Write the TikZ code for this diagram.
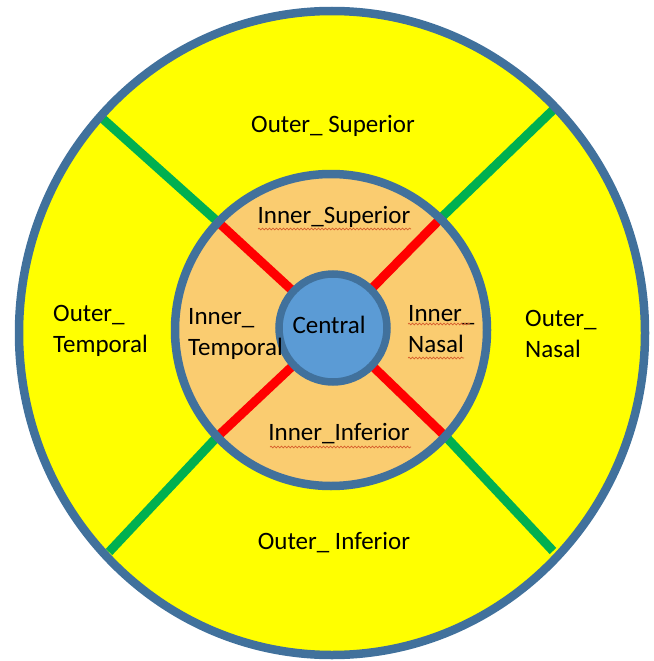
\documentclass[tikz,border=0pt]{standalone}
\usepackage{fontspec}
\setmainfont{Carlito}
\usetikzlibrary{decorations.pathmorphing}
\definecolor{ringblue}{RGB}{65,113,156}
\definecolor{outeryellow}{RGB}{255,255,0}
\definecolor{innerorange}{RGB}{250,204,112}
\definecolor{centralblue}{RGB}{91,155,213}
\definecolor{sepgreen}{RGB}{0,176,80}
\definecolor{sepred}{RGB}{255,0,0}
\definecolor{wavy}{RGB}{215,95,45}
\begin{document}
\begin{tikzpicture}[x=1pt,y=-1pt,
  lbl/.style={font=\fontsize{25}{31}\selectfont, inner sep=0pt, text=black},
  lblL/.style={lbl, align=left, anchor=west},
  border/.style={draw=ringblue, line width=8.5pt},
  gline/.style={draw=sepgreen, line width=9pt},
  rline/.style={draw=sepred, line width=9pt},
  spell/.style={draw=wavy, line width=0.7pt, decorate, decoration={snake, amplitude=0.9pt, segment length=3.5pt}}]
\useasboundingbox (0,0) rectangle (653,661);
% centres
\coordinate (oc) at (332,333);
\coordinate (ic) at (331,330);
\coordinate (cc) at (333,328);
% green outer ends and junctions
\coordinate (g1) at (103,119);
\coordinate (g2) at (553,110);
\coordinate (g3) at (109,552);
\coordinate (g4) at (553,551);
\coordinate (j1) at (218,222);
\coordinate (j2) at (443,216);
\coordinate (j3) at (217,437);
\coordinate (j4) at (447,438);
% outer ring
\fill[outeryellow] (oc) ellipse [x radius=313pt, y radius=322pt];
\draw[gline] (g1) -- (j1);
\draw[gline] (g2) -- (j2);
\draw[gline] (g3) -- (j3);
\draw[gline] (g4) -- (j4);
\draw[border] (oc) ellipse [x radius=313pt, y radius=322pt];
% inner ring
\fill[innerorange] (ic) circle [radius=156pt];
\draw[rline] (j1) -- (cc);
\draw[rline] (j2) -- (cc);
\draw[rline] (j3) -- (cc);
\draw[rline] (j4) -- (cc);
\draw[border] (ic) circle [radius=156pt];
% central
\draw[border, line width=7.5pt, fill=centralblue] (cc) circle [radius=54pt];
% labels
\node[lbl] (os) at (333,126) {Outer\_ Superior};
\node[lblL] (ot) at (53,331) {Outer\_\\Temporal};
\node[lblL] (on) at (525,334) {Outer\_\\Nasal};
\node[lbl] (oi) at (334,543) {Outer\_ Inferior};
\node[lbl] (is) at (334,217) {Inner\_Superior};
\node[lblL] (it) at (188,334) {Inner\_\\Temporal};
\node[lbl] (cn) at (329,325) {Central};
\node[lblL] (in) at (408,329) {Inner\_\\Nasal};
\node[lbl] (ii) at (339,434) {Inner\_Inferior};
% spelling marks
\draw[spell] (258,229) -- (411,229);
\draw[spell] (270,447) -- (411,447);
\draw[spell] (408,324) -- (470,324);
\draw[spell] (408,358) -- (464,358);
\end{tikzpicture}
\end{document}
